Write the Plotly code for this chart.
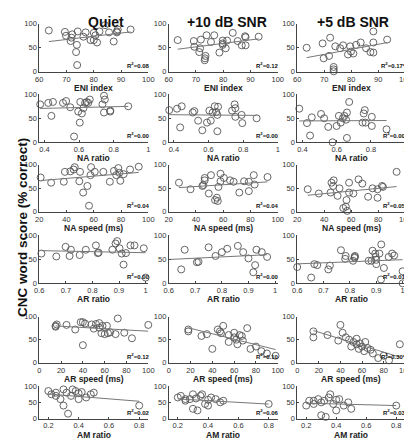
import numpy as np
import plotly.graph_objects as go

# ---------------- data ----------------
col_titles = ["Quiet", "+10 dB SNR", "+5 dB SNR"]
row_titles = ["ENI index", "NA ratio", "NA speed (ms)", "AR ratio", "AR speed (ms)", "AM ratio"]
r2_labels = [
    ["0.08", "0.12", "0.17*"],
    ["0.00", "0.00", "0.00"],
    ["0.04", "0.04", "0.05"],
    ["0.00", "0.00", "0.01"],
    ["0.12", "0.10", "0.30*"],
    ["0.02", "0.06", "0.03"],
]
x_ranges = [[60, 100], [0.37, 1.0], [20, 100], [0.6, 1.01], [0, 100], [0.14, 0.86]]
x_tickvals = [[60, 70, 80, 90, 100], [0.4, 0.6, 0.8, 1], [20, 40, 60, 80, 100],
              [0.6, 0.7, 0.8, 0.9, 1], [0, 20, 40, 60, 80, 100], [0.2, 0.4, 0.6, 0.8]]
x_ticktext = [["60", "70", "80", "90", "100"], ["0.4", "0.6", "0.8", "1"],
              ["20", "40", "60", "80", "100"], ["0.6", "0.7", "0.8", "0.9", "1"],
              ["0", "20", "40", "60", "80", "100"], ["0.2", "0.4", "0.6", "0.8"]]
y_tickvals = [0, 50, 100]

# Row 1: ENI index
eni_quiet_x = [63.5, 69.4, 69.8, 72.1, 71.8, 71.5, 74.1, 73.8, 73.5, 73.9, 76.2, 77.0, 78.8, 80.0, 80.0,
               80.6, 81.2, 82.1, 84.1, 85.6, 87.3, 88.5, 88.8, 88.5, 93.5]
eni_quiet_y = [86, 83, 75, 78, 71, 64, 84, 56, 41, 14, 73, 82, 66, 66, 81, 76, 61, 84, 97, 82, 63, 82, 88, 84, 88]
eni_snr10_x = [63.3, 69.2, 69.4, 71.5, 71.2, 71.8, 73.9, 73.5, 73.3, 73.2, 75.5, 76.7, 78.6, 79.8, 79.8,
               79.8, 80.9, 81.4, 83.5, 85.3, 86.8, 88.0, 88.2, 88.2, 93.0]
eni_snr10_y = [66, 64, 52, 49, 41, 67, 76, 33, 28, 24, 62, 76, 40, 65, 59, 56, 49, 65, 81, 64, 55, 74, 72, 55, 73]
eni_snr5_x = [63.5, 69.4, 69.8, 71.8, 72.2, 73.5, 73.5, 73.5, 74.1, 75.9, 77.0, 78.8, 79.6, 79.9, 80.8,
              81.8, 83.5, 85.5, 87.1, 88.2, 88.2, 88.2, 93.3]
eni_snr5_y = [50, 59, 28, 33, 71, 10, 5, 1, 53, 49, 55, 36, 53, 42, 38, 56, 61, 49, 41, 40, 61, 84, 67]

# Row 2: NA ratio
na_ratio_quiet_x = [0.375, 0.422, 0.449, 0.44, 0.507, 0.525, 0.549, 0.595, 0.607, 0.616, 0.625, 0.635, 0.644,
                    0.653, 0.662, 0.604, 0.571, 0.735, 0.744, 0.749, 0.744, 0.78, 0.78, 0.884]
na_ratio_quiet_y = [79, 82, 84, 55, 82, 86, 73, 64, 84, 60, 71, 82, 84, 82, 89, 41, 12, 79, 97, 89, 62, 66, 64, 75]
na_ratio_snr10_x = [0.373, 0.418, 0.445, 0.436, 0.509, 0.518, 0.54, 0.564, 0.591, 0.605, 0.613, 0.624, 0.636,
                    0.645, 0.655, 0.651, 0.651, 0.736, 0.751, 0.755, 0.755, 0.791, 0.795, 0.878]
na_ratio_snr10_y = [67, 70, 75, 31, 62, 65, 45, 25, 41, 66, 45, 62, 75, 63, 74, 57, 23, 66, 79, 71, 53, 57, 40, 50]
na_ratio_snr5_x = [0.382, 0.427, 0.455, 0.445, 0.509, 0.527, 0.551, 0.576, 0.6, 0.613, 0.624, 0.636, 0.645,
                   0.655, 0.66, 0.673, 0.66, 0.751, 0.758, 0.764, 0.769, 0.805, 0.805, 0.891]
na_ratio_snr5_y = [70, 40, 52, 14, 59, 50, 32, 0, 34, 55, 41, 50, 55, 47, 62, 84, 9, 41, 60, 67, 41, 53, 34, 27]

# Row 3: NA speed (ms)
na_speed_quiet_x = [21, 28.7, 38, 38.8, 42.8, 45.2, 49.9, 49.4, 52.2, 55.3, 56.5, 57.6, 60.7, 67, 71.8,
                    74.8, 76.5, 78.8, 79.5, 81.9, 86.6, 46, 58, 78, 93]
na_speed_quiet_y = [73, 62, 64, 85, 86, 90, 85, 65, 41, 55, 13, 78, 85, 85, 64, 87, 78, 83, 66, 80, 90, 95, 95, 93, 96]
na_speed_snr10_x = [27.5, 36, 44.7, 45.4, 46.4, 46.4, 51, 49.4, 54, 55.3, 56, 56.5, 58, 58, 60.5, 65, 67.6,
                    71.8, 75.3, 78.8, 78.8, 82.4, 83, 92.5]
na_speed_snr10_y = [62, 48, 55, 57, 72, 67, 78, 39, 25, 30, 23, 53, 81, 65, 72, 67, 64, 41, 65, 64, 44, 78, 58, 74]
na_speed_snr5_x = [27.8, 36, 44.7, 45.4, 47, 46.6, 49.9, 51.3, 54.1, 56, 56.5, 57, 58.4, 58.4, 61.6, 65.4,
                   68.2, 72.5, 75.8, 79.5, 79.5, 82.8, 83.5, 93.6]
na_speed_snr5_y = [48, 39, 41, 62, 67, 55, 34, 50, 8, 11, 25, 2, 62, 41, 39, 69, 60, 32, 50, 48, 30, 55, 53, 85]

# Row 4: AR ratio
ar_ratio_quiet_x = [0.608, 0.664, 0.699, 0.714, 0.719, 0.752, 0.775, 0.813, 0.82, 0.823, 0.875, 0.887, 0.893,
                    0.902, 0.91, 0.917, 0.926, 0.943, 0.958, 0.993, 1.0]
ar_ratio_quiet_y = [62, 56, 76, 57, 70, 59, 70, 79, 63, 64, 70, 83, 88, 73, 62, 39, 63, 79, 79, 73, 12]
ar_ratio_snr10_x = [0.594, 0.647, 0.706, 0.712, 0.776, 0.8, 0.88, 0.9, 0.925, 0.918, 0.97, 0.95, 0.66, 0.75,
                    0.82, 0.86, 0.93]
ar_ratio_snr10_y = [38, 29, 44, 45, 57, 65, 65, 52, 38, 23, 55, 65, 70, 75, 72, 78, 70]
ar_ratio_snr5_x = [0.6, 0.653, 0.665, 0.676, 0.718, 0.724, 0.782, 0.812, 0.818, 0.818, 0.871, 0.882, 0.898,
                   0.9, 0.9, 0.912, 0.929, 0.918, 0.947, 0.968, 1.0, 1.0, 0.766, 0.784, 0.819, 0.886, 0.896,
                   0.919, 0.96]
ar_ratio_snr5_y = [34, 12, 40, 38, 29, 37, 51, 47, 53, 55, 47, 47, 55, 49, 40, 62, 32, 8, 55, 58, 25, 0, 69,
                   57, 57, 68, 62, 81, 62]

# Row 5: AR speed (ms)
ar_speed_quiet_x = [15, 15, 16, 25, 33, 38, 40, 42, 48, 50, 52, 55, 55, 57, 58, 60, 62, 63, 65, 70, 72, 78,
                    85, 40, 100]
ar_speed_quiet_y = [80, 78, 83, 82, 72, 88, 88, 85, 83, 74, 84, 86, 76, 64, 80, 62, 80, 64, 66, 62, 96, 65,
                    53, 38, 82]
ar_speed_snr10_x = [18, 18, 30, 35, 45, 47, 48, 55, 55, 60, 60, 62, 63, 65, 67, 68, 72, 75, 80, 85, 90, 98,
                    40, 50]
ar_speed_snr10_y = [72, 68, 58, 62, 72, 68, 64, 60, 45, 65, 55, 50, 40, 60, 58, 48, 75, 30, 35, 25, 20, 15,
                    30, 80]
ar_speed_snr5_x = [15, 15, 28, 38, 40, 42, 45, 48, 52, 55, 55, 57, 58, 60, 62, 63, 65, 68, 70, 75, 80, 85,
                   95, 50]
ar_speed_snr5_y = [68, 55, 60, 48, 82, 65, 55, 50, 45, 52, 40, 30, 42, 35, 25, 45, 32, 28, 20, 10, 15, 5,
                   40, 35]

# Row 6: AM ratio
am_ratio_quiet_x = [0.2, 0.22, 0.25, 0.28, 0.3, 0.32, 0.35, 0.38, 0.4, 0.42, 0.45, 0.48, 0.5, 0.3, 0.33,
                    0.36, 0.4, 0.25, 0.8]
am_ratio_quiet_y = [85, 75, 80, 60, 90, 80, 70, 85, 78, 82, 65, 75, 80, 40, 15, 90, 60, 70, 40]
am_ratio_snr10_x = [0.2, 0.22, 0.25, 0.28, 0.3, 0.32, 0.35, 0.38, 0.4, 0.42, 0.45, 0.48, 0.5, 0.3, 0.33,
                    0.36, 0.4, 0.25, 0.8]
am_ratio_snr10_y = [65, 70, 55, 60, 75, 62, 70, 45, 58, 65, 60, 50, 55, 30, 25, 75, 40, 60, 45]
am_ratio_snr5_x = [0.2, 0.22, 0.25, 0.28, 0.3, 0.32, 0.35, 0.38, 0.4, 0.42, 0.45, 0.48, 0.5, 0.3, 0.33,
                   0.36, 0.4, 0.25, 0.8]
am_ratio_snr5_y = [40, 55, 45, 60, 50, 55, 65, 45, 58, 60, 40, 50, 30, 10, 5, 75, 25, 55, 40]

panel_data = [
    [(eni_quiet_x, eni_quiet_y), (eni_snr10_x, eni_snr10_y), (eni_snr5_x, eni_snr5_y)],
    [(na_ratio_quiet_x, na_ratio_quiet_y), (na_ratio_snr10_x, na_ratio_snr10_y), (na_ratio_snr5_x, na_ratio_snr5_y)],
    [(na_speed_quiet_x, na_speed_quiet_y), (na_speed_snr10_x, na_speed_snr10_y), (na_speed_snr5_x, na_speed_snr5_y)],
    [(ar_ratio_quiet_x, ar_ratio_quiet_y), (ar_ratio_snr10_x, ar_ratio_snr10_y), (ar_ratio_snr5_x, ar_ratio_snr5_y)],
    [(ar_speed_quiet_x, ar_speed_quiet_y), (ar_speed_snr10_x, ar_speed_snr10_y), (ar_speed_snr5_x, ar_speed_snr5_y)],
    [(am_ratio_quiet_x, am_ratio_quiet_y), (am_ratio_snr10_x, am_ratio_snr10_y), (am_ratio_snr5_x, am_ratio_snr5_y)],
]

# ---------------- layout geometry (pixels) ----------------
W, H = 412, 440
col_px = [(27, 139), (160, 272), (292, 403)]
row_px = [(12, 61), (84, 133), (156, 204), (228, 277), (311, 358), (382, 415)]
col_title_cx = [96, 220, 349]

FONT = "Liberation Sans, Arial, sans-serif"
fig = go.Figure()
layout = {}
annotations = []

for r in range(6):
    for c in range(3):
        idx = r * 3 + c + 1
        xa = "x" if idx == 1 else f"x{idx}"
        ya = "y" if idx == 1 else f"y{idx}"
        xs = np.array(panel_data[r][c][0], dtype=float)
        ys = np.array(panel_data[r][c][1], dtype=float)
        fig.add_trace(go.Scatter(x=xs, y=ys, mode="markers", xaxis=xa, yaxis=ya,
                                 marker=dict(symbol="circle-open", size=7, color="#555555",
                                             line=dict(width=0.9, color="#555555")),
                                 cliponaxis=False, showlegend=False, hoverinfo="x+y"))
        slope, icpt = np.polyfit(xs, ys, 1)
        lx = np.array([xs.min(), xs.max()])
        fig.add_trace(go.Scatter(x=lx, y=slope * lx + icpt, mode="lines", xaxis=xa, yaxis=ya,
                                 line=dict(color="#777777", width=1), showlegend=False,
                                 hoverinfo="skip"))
        x0, x1 = col_px[c]
        y0, y1 = row_px[r]
        layout[f"xaxis{'' if idx == 1 else idx}"] = dict(
            domain=[x0 / W, x1 / W], anchor=ya, range=x_ranges[r],
            tickvals=x_tickvals[r], ticktext=x_ticktext[r], ticks="inside", ticklen=2,
            tickwidth=0.8, tickcolor="#444", showline=True, linecolor="#444", linewidth=0.8,
            showgrid=False, zeroline=False, tickfont=dict(size=7.5, color="#333", family=FONT),
        )
        layout[f"yaxis{'' if idx == 1 else idx}"] = dict(
            domain=[1 - y1 / H, 1 - y0 / H], anchor=xa, range=[0, 100],
            tickvals=y_tickvals, ticks="inside", ticklen=2, tickwidth=0.8, tickcolor="#444",
            showline=True, linecolor="#444", linewidth=0.8, showgrid=False, zeroline=False,
            tickfont=dict(size=7.5, color="#333", family=FONT),
        )
        annotations.append(dict(
            text=f"<b>R<sup>2</sup>={r2_labels[r][c]}</b>", xref=f"{xa} domain", yref=f"{ya} domain",
            x=1.03, y=0.02, xanchor="right", yanchor="bottom", showarrow=False,
            font=dict(size=6, color="#111", family=FONT),
        ))
        # x-axis title
        annotations.append(dict(
            text=f"<b>{row_titles[r]}</b>", xref="paper", yref="paper",
            x=(x0 + x1) / 2 / W, y=1 - (y1 + 16.5) / H, xanchor="center", yanchor="middle",
            showarrow=False, font=dict(size=8.5, color="#222", family=FONT),
        ))

for c in range(3):
    annotations.append(dict(text=f"<b>{col_titles[c]}</b>", xref="paper", yref="paper",
                            x=col_title_cx[c] / W, y=1 - 0 / H, xanchor="center", yanchor="top",
                            showarrow=False, font=dict(size=14, color="#111", family=FONT)))

annotations.append(dict(text="<b>CNC word score (% correct)</b>", xref="paper", yref="paper",
                        x=0 / W, y=0.5, xanchor="left", yanchor="middle", textangle=-90,
                        showarrow=False, font=dict(size=13.5, color="#111", family=FONT)))

fig.update_layout(width=W, height=H, margin=dict(l=0, r=0, t=0, b=0),
                  paper_bgcolor="white", plot_bgcolor="white",
                  annotations=annotations, **layout)
fig.write_html("out.html")
